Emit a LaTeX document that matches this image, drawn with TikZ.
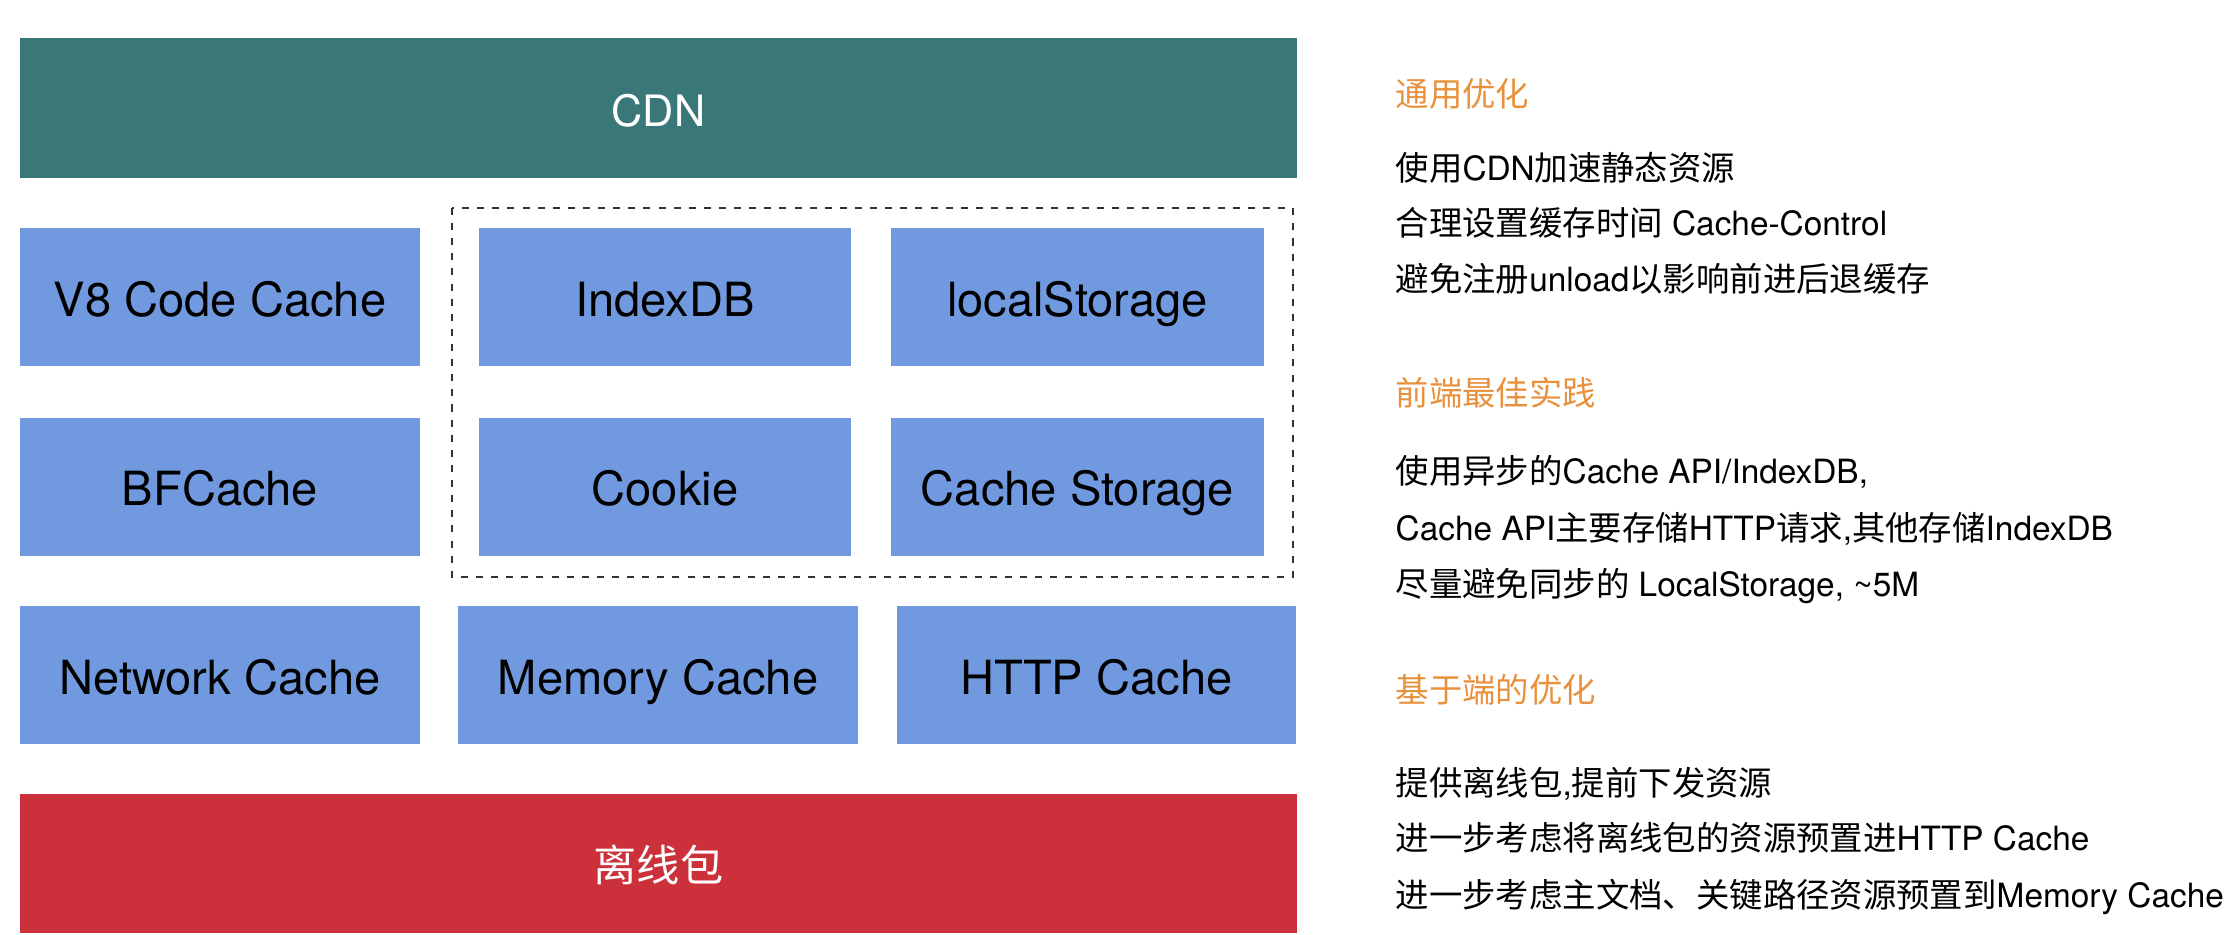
\documentclass[tikz,border=0pt]{standalone}
\usepackage{fontspec}
\setmainfont{TeX Gyre Heros}
\newfontfamily\cjk{Noto Sans CJK SC}
\newcommand{\zh}[1]{{\cjk #1}}
\usepackage{xcolor}
\usetikzlibrary{positioning}

\definecolor{cdnteal}{HTML}{3A7778}
\definecolor{cellblue}{HTML}{7099DF}
\definecolor{pkgred}{HTML}{CC313B}
\definecolor{headorange}{HTML}{E8913C}

\begin{document}
\begin{tikzpicture}[x=1cm, y=1cm, inner sep=0pt,
  layer/.style={rectangle, minimum width=12.77cm, minimum height=1.39cm, text=white, text height=10.5pt, text depth=0pt, font=\fontsize{12.3pt}{14pt}\selectfont},
  cell/.style={rectangle, fill=cellblue, minimum height=1.38cm, text height=11pt, text depth=0pt, font=\fontsize{13.4pt}{16pt}\selectfont},
  note/.style={anchor=west, text height=8.4pt, text depth=1.1pt, font=\fontsize{9.5pt}{11pt}\selectfont},
  head/.style={note, text=headorange}]

\useasboundingbox (0,0) rectangle (22.32,-9.34);

% layers
\node[layer, fill=cdnteal, minimum height=1.40cm] (cdn) at (6.585,-1.08) {CDN};
\node[layer, fill=pkgred] (pkg) at (6.585,-8.63) {\zh{离线包}};

% storage group
\draw[dash pattern=on 2pt off 2.3pt, line width=0.6pt, color=black!80] (4.52,-2.08) rectangle (12.93,-5.77);

\node[cell, minimum width=4.00cm] (v8) at (2.20,-2.97) {V8 Code Cache};
\node[cell, minimum width=3.72cm] (idb) at (6.65,-2.97) {IndexDB};
\node[cell, minimum width=3.73cm] (ls) at (10.775,-2.97) {localStorage};

\node[cell, minimum width=4.00cm] (bf) at (2.20,-4.865) {BFCache};
\node[cell, minimum width=3.72cm] (cookie) at (6.65,-4.865) {Cookie};
\node[cell, minimum width=3.73cm] (cs) at (10.775,-4.865) {Cache Storage};

\node[cell, minimum width=4.00cm] (net) at (2.20,-6.75) {Network Cache};
\node[cell, minimum width=4.00cm] (mem) at (6.58,-6.75) {Memory Cache};
\node[cell, minimum width=3.99cm] (http) at (10.965,-6.75) {HTTP Cache};

% notes
\node[head] (h1) at (13.95,-0.94) {\zh{通用优化}};
\node[note] (n11) at (13.95,-1.68) {\zh{使用}CDN\zh{加速静态资源}};
\node[note] (n12) at (13.95,-2.23) {\zh{合理设置缓存时间} Cache-Control};
\node[note] (n13) at (13.95,-2.79) {\zh{避免注册}unload\zh{以影响前进后退缓存}};

\node[head] (h2) at (13.95,-3.93) {\zh{前端最佳实践}};
\node[note] (n21) at (13.95,-4.71) {\zh{使用异步的}Cache API/IndexDB,};
\node[note] (n22) at (13.95,-5.28) {Cache API\zh{主要存储}HTTP\zh{请求},\zh{其他存储}IndexDB};
\node[note] (n23) at (13.95,-5.84) {\zh{尽量避免同步的} LocalStorage, \textasciitilde5M};

\node[head] (h3) at (13.95,-6.90) {\zh{基于端的优化}};
\node[note] (n31) at (13.95,-7.83) {\zh{提供离线包},\zh{提前下发资源}};
\node[note] (n32) at (13.95,-8.38) {\zh{进一步考虑将离线包的资源预置进}HTTP Cache};
\node[note] (n33) at (13.95,-8.95) {\zh{进一步考虑主文档、关键路径资源预置到}Memory Cache};

\end{tikzpicture}
\end{document}
